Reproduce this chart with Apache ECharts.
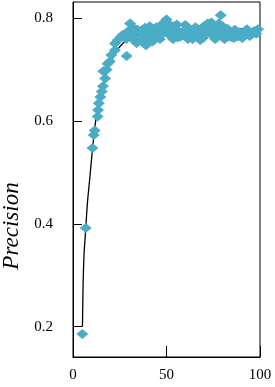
<!DOCTYPE html>
<html>
<head>
<meta charset="utf-8">
<script src="https://cdn.jsdelivr.net/npm/echarts@6/dist/echarts.min.js"></script>
<style>
html,body{margin:0;padding:0;background:#fff;}
#c{width:275px;height:387px;}
</style>
</head>
<body>
<div id="c"></div>
<script>
// Scatter data (x = iteration, y = precision)
const xValues = [5, 6.8, 10.4, 11.1, 11.6, 13.2, 13.4, 13.8, 14.6, 15.4, 16, 17.2, 16.2, 18, 18.5, 19.7, 20.5, 22.4, 22.4, 24, 25.5, 26.5, 28.7, 28.5, 29.5, 30.5,
  31, 32, 33, 34, 35, 36, 37, 38, 39, 40, 41, 42, 43, 44, 45, 46, 47, 48, 49, 50, 51, 52, 53, 54, 55, 56, 57, 58, 59, 60,
  61, 62, 63, 64, 65, 66, 67, 68, 69, 70, 71, 72, 73, 74, 75, 76, 77, 78, 79, 80, 81, 82, 83, 84, 85, 86, 87, 88, 89, 90,
  91, 92, 93, 94, 95, 96, 97, 98, 99,
  32.5, 34.5, 36.5, 38.5, 40.5, 42.5, 44.5, 46.5, 48.5, 51.5, 53.5, 55.5, 57.5, 59.5, 61.5, 63.5, 65.5, 67.5, 69.5, 71.5, 73.5, 75.5, 77.5, 80.5, 82.5, 84.5, 86.5, 88.5, 90.5, 92.5, 94.5, 96.5];
const yValues = [0.186, 0.392, 0.548, 0.573, 0.582, 0.609, 0.622, 0.635, 0.647, 0.658, 0.668, 0.683, 0.697, 0.700, 0.712, 0.716, 0.729, 0.738, 0.751, 0.758, 0.764, 0.768, 0.727, 0.760, 0.775, 0.790,
  0.770, 0.765, 0.780, 0.752, 0.760, 0.775, 0.770, 0.755, 0.748, 0.780, 0.785, 0.770, 0.762, 0.775, 0.768, 0.773, 0.780, 0.790, 0.785, 0.798, 0.790, 0.775, 0.770, 0.785, 0.780, 0.763, 0.772, 0.768, 0.775, 0.787,
  0.780, 0.775, 0.765, 0.760, 0.772, 0.770, 0.778, 0.758, 0.770, 0.785, 0.778, 0.790, 0.782, 0.792, 0.770, 0.760, 0.775, 0.790, 0.806, 0.785, 0.760, 0.772, 0.765, 0.775, 0.770, 0.762, 0.768, 0.765, 0.773, 0.770,
  0.766, 0.775, 0.779, 0.770, 0.768, 0.772, 0.775, 0.770, 0.779,
  0.758, 0.778, 0.763, 0.782, 0.765, 0.755, 0.783, 0.760, 0.772, 0.768, 0.760, 0.788, 0.765, 0.770, 0.760, 0.778, 0.783, 0.768, 0.762, 0.773, 0.770, 0.784, 0.766, 0.775, 0.780, 0.764, 0.778, 0.772, 0.762, 0.770, 0.766, 0.774];
// Fitted curve
const curveX = [5.05, 5.4, 5.9, 6.8, 7.7, 9.0, 10.2, 11.3, 12.2, 14, 16, 18, 20, 22.5, 25, 30, 35, 40, 50, 60, 80, 100];
const curveY = [0.20, 0.28, 0.34, 0.39, 0.44, 0.49, 0.537, 0.576, 0.602, 0.635, 0.668, 0.694, 0.713, 0.731, 0.745, 0.762, 0.769, 0.773, 0.776, 0.778, 0.779, 0.780];
const yTicks = [0.2, 0.4, 0.6, 0.8];
const xTicks = [0, 50, 100];
const yTitle = 'Precision';

const scatterData = xValues.map((x, i) => [x, yValues[i]]);
const curveData = curveX.map((x, i) => [x, curveY[i]]);
const font = 'Liberation Serif';

const chart = echarts.init(document.getElementById('c'), null, {renderer: 'canvas'});
chart.setOption({
  animation: false,
  backgroundColor: '#fff',
  grid: {left: 73, right: 15, top: 2, bottom: 30, show: true, borderColor: '#000', borderWidth: 1, backgroundColor: 'transparent'},
  xAxis: {
    type: 'value', min: 0, max: 100, interval: 50,
    axisLine: {lineStyle: {color: '#000', width: 1}},
    axisTick: {inside: true, length: 11, lineStyle: {color: '#000'}, customValues: xTicks},
    axisLabel: {color: '#000', fontFamily: font, fontSize: 15, margin: 11, customValues: xTicks},
    splitLine: {show: false}
  },
  yAxis: {
    type: 'value', min: 0.141, max: 0.832,
    axisLine: {show: true, lineStyle: {color: '#000', width: 1}},
    axisTick: {show: true, inside: true, length: 9, lineStyle: {color: '#000'}, customValues: yTicks},
    axisLabel: {color: '#000', fontFamily: font, fontSize: 15, margin: 20, customValues: yTicks, formatter: v => v.toFixed(1)},
    splitLine: {show: false}
  },
  graphic: [{
    type: 'text', x: 12, y: 226, rotation: Math.PI / 2,
    style: {text: yTitle, fontFamily: font, fontStyle: 'italic', fontSize: 23, fill: '#000', align: 'center', verticalAlign: 'middle'}
  }],
  series: [
    {type: 'line', data: curveData, smooth: 0.3, showSymbol: false, lineStyle: {color: '#000', width: 1.3}, z: 2},
    {type: 'scatter', data: scatterData, symbol: 'diamond', symbolSize: [12, 10], itemStyle: {color: '#4bacc6', opacity: 1}, z: 3}
  ]
});
</script>
</body>
</html>
